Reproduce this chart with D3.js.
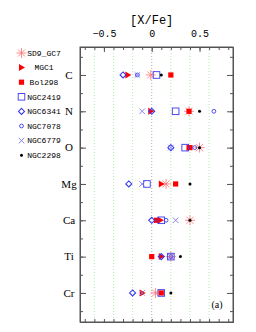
<!DOCTYPE html>
<html>
<head>
<meta charset="utf-8">
<script src="https://cdn.jsdelivr.net/npm/d3@7"></script>
<style>
  body { margin: 0; background: #fff; }
  svg { display: block; }
  .axis path, .axis line { stroke: #555; }
  .elab { font-family: "Liberation Serif", serif; font-size: 11px; }
  .leg { font-family: "Liberation Mono", monospace; font-size: 8px; }
</style>
</head>
<body>
<svg id="chart" width="256" height="332"></svg>
<script>
var elements = ["C", "N", "O", "Mg", "Ca", "Ti", "Cr"];
var seriesNames = ["SD9_GC7", "MGC1", "Bol298", "NGC2419", "NGC6341", "NGC7078", "NGC6779", "NGC2298"];

// [X/Fe] per element, in elements order
var sd9_gc7 = [-0.01, 0.39, 0.50, 0.15, 0.40, 0.20, 0.04];
var mgc1    = [-0.25, -0.01, 0.39, 0.10, 0.09, 0.10, -0.10];
var bol298  = [0.20, 0.39, 0.40, 0.25, 0.05, 0.00, 0.10];
var ngc2419 = [0.05, 0.25, 0.35, -0.05, 0.10, 0.20, 0.10];
var ngc6341 = [-0.30, 0.00, 0.20, -0.24, 0.00, 0.10, -0.20];
var ngc7078 = [-0.15, 0.65, 0.45, null, 0.15, 0.20, null];
var ngc6779 = [-0.15, -0.10, 0.20, -0.10, 0.25, 0.20, -0.10];
var ngc2298 = [0.10, 0.50, 0.50, 0.40, 0.40, 0.30, 0.20];

var xTickLabels = [-0.5, 0, 0.5];
var gridValues = [-0.6, -0.4, -0.2, 0.2, 0.4, 0.6];

var series = [
    {name: seriesNames[0], values: sd9_gc7, shape: "asterisk", color: "#ff7070"},
    {name: seriesNames[1], values: mgc1, shape: "triangle", color: "#ff0000"},
    {name: seriesNames[2], values: bol298, shape: "fsquare", color: "#ff0000"},
    {name: seriesNames[3], values: ngc2419, shape: "osquare", color: "#3a3aee"},
    {name: seriesNames[4], values: ngc6341, shape: "diamond", color: "#3a3aee"},
    {name: seriesNames[5], values: ngc7078, shape: "circle", color: "#3a3aee"},
    {name: seriesNames[6], values: ngc6779, shape: "cross", color: "#7a7af5"},
    {name: seriesNames[7], values: ngc2298, shape: "dot", color: "#000"}
];

var svg = d3.select("#chart");
var margin = {top: 47, right: 23, bottom: 10, left: 80}
    , width = 256 - margin.left - margin.right
    , height = 332 - margin.top - margin.bottom
    , g = svg.append("g").attr("transform", "translate(" + margin.left + "," + margin.top + ")")
    ;

var x = d3.scaleLinear().domain([-0.75, 0.85]).range([0, width]);
var y = d3.scaleLinear().domain([-0.77, 6.8]).range([0, height]);

// grid
g.selectAll("line.grid")
    .data(gridValues)
    .enter().append("line")
    .attr("x1", x).attr("x2", x)
    .attr("y1", 0).attr("y2", height)
    .attr("stroke", "#9be89b")
    .attr("stroke-width", 0.8)
    .attr("stroke-dasharray", "1,2");

g.append("line")
    .attr("x1", x(0)).attr("x2", x(0))
    .attr("y1", 0).attr("y2", height)
    .attr("stroke", "#999")
    .attr("stroke-width", 0.8)
    .attr("stroke-dasharray", "1,2");

// axes
var xMinor = d3.range(-0.7, 0.85, 0.1).map(function(v) {return Math.round(v * 10) / 10});
var yMinor = d3.range(-0.5, 6.8, 0.5);

var xTop = d3.axisTop(x).tickValues(xTickLabels).tickSizeInner(-5).tickSizeOuter(0)
    .tickPadding(10).tickFormat(d3.format(".1~f"));
g.append("g").attr("class", "axis").call(xTop);
g.append("g").attr("class", "axis")
    .call(d3.axisTop(x).tickValues(xMinor).tickSizeInner(-3).tickSizeOuter(0).tickFormat(""));
g.append("g").attr("class", "axis").attr("transform", "translate(0," + height + ")")
    .call(d3.axisBottom(x).tickValues(xMinor).tickSizeInner(-3).tickSizeOuter(0).tickFormat(""));

g.append("g").attr("class", "axis")
    .call(d3.axisLeft(y).tickValues(yMinor).tickSizeInner(-3).tickSizeOuter(0).tickFormat(""));
g.append("g").attr("class", "axis")
    .call(d3.axisLeft(y).tickValues(d3.range(elements.length)).tickSizeInner(-6).tickSizeOuter(0).tickFormat(""));
g.append("g").attr("class", "axis").attr("transform", "translate(" + width + ",0)")
    .call(d3.axisRight(y).tickValues(yMinor).tickSizeInner(-3).tickSizeOuter(0).tickFormat(""));
g.append("g").attr("class", "axis").attr("transform", "translate(" + width + ",0)")
    .call(d3.axisRight(y).tickValues(d3.range(elements.length)).tickSizeInner(-6).tickSizeOuter(0).tickFormat(""));

g.append("rect").attr("width", width).attr("height", height)
    .attr("fill", "none").attr("stroke", "#555");

g.selectAll(".axis text")
    .attr("font-family", "Liberation Mono, monospace")
    .attr("font-size", 10)
    .attr("fill", "#000");

// element labels
g.selectAll("text.elab")
    .data(elements)
    .enter().append("text")
    .attr("class", "elab")
    .attr("x", -11)
    .attr("y", function(d, i) {return y(i)})
    .attr("dy", "0.35em")
    .attr("text-anchor", "middle")
    .text(function(d) {return d});

svg.append("text")
    .attr("x", margin.left + x(0))
    .attr("y", 24)
    .attr("text-anchor", "middle")
    .attr("font-family", "Liberation Mono, monospace")
    .attr("font-size", 12)
    .text("[X/Fe]");

g.append("text")
    .attr("x", width - 16)
    .attr("y", height - 14)
    .attr("text-anchor", "middle")
    .attr("font-family", "Liberation Serif, serif")
    .attr("font-size", 10)
    .text("(a)");

function marker(sel, shape, color) {
    if (shape === "asterisk") {
        var r = 5;
        sel.append("path")
            .attr("d", [0, 45, 90, 135].map(function(a) {
                var t = a * Math.PI / 180, dx = r * Math.cos(t), dy = r * Math.sin(t);
                return "M" + (-dx) + "," + (-dy) + "L" + dx + "," + dy;
            }).join(""))
            .attr("stroke", color).attr("stroke-width", 0.8).attr("fill", "none");
    } else if (shape === "triangle") {
        sel.append("path").attr("d", "M-2.5,-3.5L3.5,0L-2.5,3.5Z").attr("fill", color);
    } else if (shape === "fsquare") {
        sel.append("rect").attr("x", -2.6).attr("y", -2.6).attr("width", 5.2).attr("height", 5.2).attr("fill", color);
    } else if (shape === "osquare") {
        sel.append("rect").attr("x", -3.3).attr("y", -3.3).attr("width", 6.6).attr("height", 6.6)
            .attr("fill", "none").attr("stroke", color).attr("stroke-width", 0.9);
    } else if (shape === "diamond") {
        sel.append("path").attr("d", "M0,-3L3,0L0,3L-3,0Z")
            .attr("fill", "none").attr("stroke", color).attr("stroke-width", 1.1);
    } else if (shape === "circle") {
        sel.append("circle").attr("r", 1.9)
            .attr("fill", "none").attr("stroke", color).attr("stroke-width", 0.9);
    } else if (shape === "cross") {
        sel.append("path").attr("d", "M-2.8,-2.8L2.8,2.8M-2.8,2.8L2.8,-2.8")
            .attr("stroke", color).attr("stroke-width", 0.9);
    } else if (shape === "dot") {
        sel.append("circle").attr("r", 1.5).attr("fill", color);
    }
}

// points
series.forEach(function(s) {
    s.values.forEach(function(v, i) {
        if (v === null) return;
        var pt = g.append("g").attr("transform", "translate(" + x(v) + "," + y(i) + ")");
        marker(pt, s.shape, s.color);
    });
});

// legend
var legend = svg.append("g");
series.forEach(function(s, i) {
    var ly = 53 + i * 14.6;
    var it = legend.append("g").attr("transform", "translate(0," + ly + ")");
    marker(it.append("g").attr("transform", "translate(21.5,0)"), s.shape, s.color);
    it.append("text")
        .attr("class", "leg")
        .attr("x", 44)
        .attr("dy", "0.35em")
        .attr("text-anchor", "middle")
        .text(s.name);
});
</script>
</body>
</html>
